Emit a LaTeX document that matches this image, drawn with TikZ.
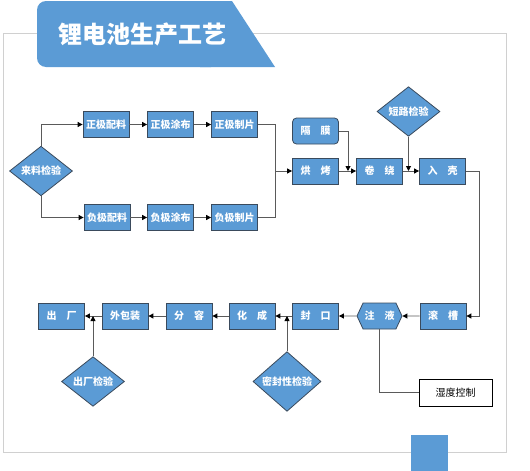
\documentclass[tikz,border=0pt]{standalone}
\usepackage{fontspec}
\setmainfont{Noto Sans CJK SC}
\usetikzlibrary{shapes.geometric,shapes.symbols,arrows.meta}
\definecolor{fillblue}{HTML}{5B9BD5}
\definecolor{edgegray}{HTML}{3A4A5C}
\definecolor{linegray}{HTML}{5A5A5A}
\definecolor{framegray}{HTML}{D0D0D0}
\begin{document}
\begin{tikzpicture}[x=1pt,y=-1pt,
 box/.style={draw=edgegray, line width=0.8pt, fill=fillblue, text=white, font=\fontsize{10}{12}\selectfont\bfseries, minimum width=46pt, minimum height=26pt, inner sep=0pt},
 rbox/.style={box, rounded corners=4pt},
 dia/.style={box, shape=diamond, minimum width=63pt, minimum height=38pt},
 hexa/.style={box, shape=signal, signal to=west and east, signal pointer angle=130, minimum width=45pt},
 note/.style={draw=black, line width=0.8pt, fill=white, text=black, font=\fontsize{10}{12}\selectfont, minimum width=73pt, minimum height=27pt, inner sep=0pt},
 conn/.style={draw=linegray, line width=0.9pt},
 arr/.style={conn, -{Triangle[length=5pt,width=5pt,color=black]}}
]
\useasboundingbox (0,0) rectangle (530,471);
% frame
\draw[framegray, line width=1pt] (3,33) rectangle (506,452);
% banner
\fill[fillblue, rounded corners=9pt] (37,1) rectangle (220,67);
\fill[fillblue] (200,1) -- (232,1) -- (275,67) -- (200,67) -- cycle;
\node[text=white, font=\fontsize{24}{28}\selectfont\bfseries] (title) at (142,34) {锂电池生产工艺};
\fill[fillblue] (411,435) rectangle (448,471);

% nodes
\node[dia] (ll) at (41,171) {来料检验};
\node[box] (zp) at (106,124.5) {正极配料};
\node[box] (zt) at (170.5,124.5) {正极涂布};
\node[box] (zz) at (234.5,124.5) {正极制片};
\node[box] (fp) at (107,217.5) {负极配料};
\node[box] (ft) at (170.5,217.5) {负极涂布};
\node[box] (fz) at (234.5,217.5) {负极制片};
\node[box] (hk) at (315.5,171) {烘\hspace{1em}烤};
\node[rbox] (gm) at (315.5,131) {隔\hspace{1em}膜};
\node[box] (jr) at (379.5,171) {卷\hspace{1em}绕};
\node[box] (rk) at (442.5,171) {入\hspace{1em}壳};
\node[dia] (dl) at (408.5,111.5) {短路检验};
\node[box] (gc) at (443,316) {滚\hspace{1em}槽};
\node[hexa] (zy) at (379.5,316) {注\hspace{1em}液};
\node[box] (fk) at (315.5,316) {封\hspace{1em}口};
\node[box] (hc) at (252,316) {化\hspace{1em}成};
\node[box] (fr) at (189,316) {分\hspace{1em}容};
\node[box] (wb) at (125,316) {外包装};
\node[box] (cc) at (61.5,316) {出\hspace{1em}厂};
\node[dia] (cj) at (93,381.5) {出厂检验};
\node[dia, minimum width=68pt] (mf) at (287,381.5) {密封性检验};
\node[note] (sd) at (455.5,392.5) {湿度控制};

% junctions
\coordinate (m1) at (275,171);
\coordinate (j1) at (348,171);
\coordinate (j2) at (dl.south |- rk.west);
\coordinate (j3) at (mf.north |- hc.east);
\coordinate (j4) at (cj.north |- cc.east);
\coordinate (r1) at (479,171);

% connectors
\draw[arr] (ll.north) |- (zp.west);
\draw[arr] (ll.south) |- (fp.west);
\draw[arr] (zp) -- (zt);
\draw[arr] (zt) -- (zz);
\draw[arr] (fp) -- (ft);
\draw[arr] (ft) -- (fz);
\draw[conn] (zz.east) -| (m1);
\draw[conn] (fz.east) -| (m1);
\draw[arr] (m1) -- (hk.west);
\draw[arr] (hk) -- (jr);
\draw[arr] (gm.east) -| (j1);
\draw[arr] (jr) -- (rk);
\draw[arr] (dl.south) -- (j2);
\draw[arr] (rk.east) -- (r1) |- (gc.east);
\draw[arr] (gc) -- (zy);
\draw[arr] (zy) -- (fk);
\draw[arr] (fk) -- (hc);
\draw[arr] (hc) -- (fr);
\draw[arr] (fr) -- (wb);
\draw[arr] (wb) -- (cc);
\draw[arr] (mf.north) -- (j3);
\draw[arr] (cj.north) -- (j4);
\draw[conn] (zy.south) |- (sd.west);
\end{tikzpicture}
\end{document}
